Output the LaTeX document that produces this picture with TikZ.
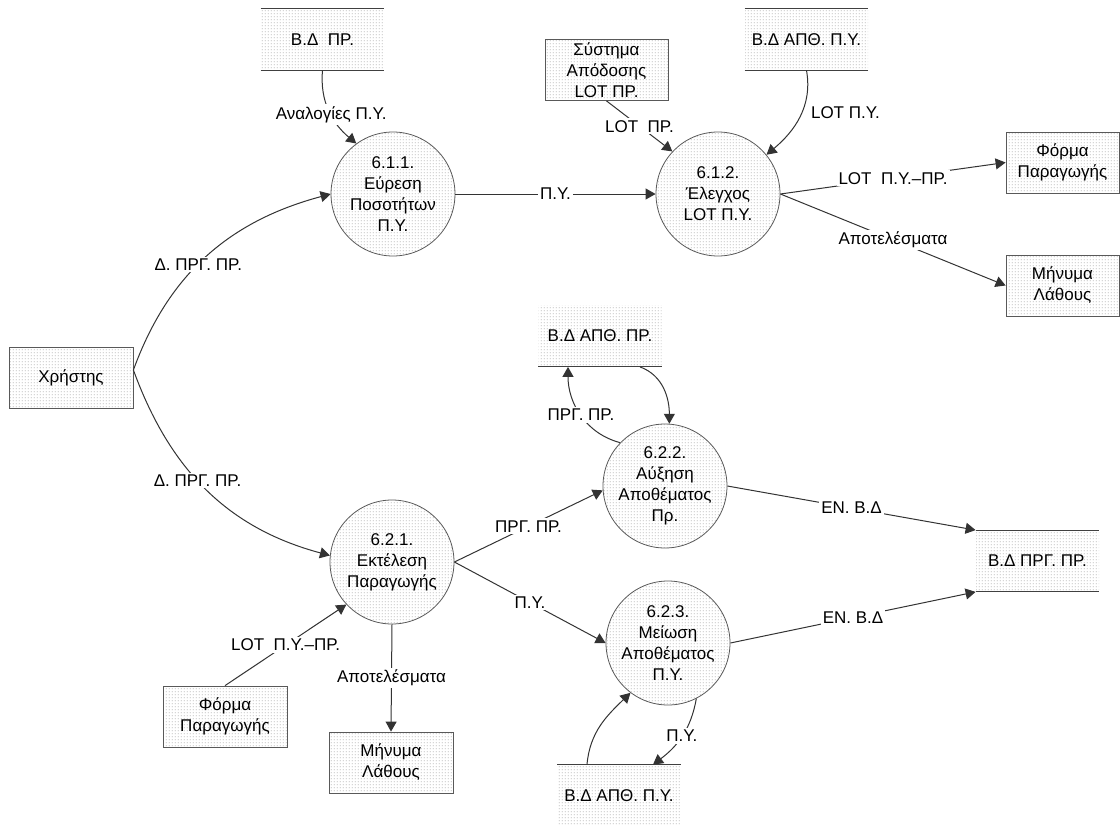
\documentclass[tikz,border=0pt]{standalone}
\usepackage{fontspec}
\setmainfont{Liberation Sans}
\usetikzlibrary{arrows.meta, positioning, patterns.meta}

\tikzdeclarepattern{
  name=sdots,
  type=uncolored,
  bounding box={(0pt,0pt) and (1.5pt,1.5pt)},
  tile size={(1.5pt,1.5pt)},
  code={\fill (0.75pt,0.75pt) circle (0.32pt);}
}

\begin{document}
\begin{tikzpicture}[x=0.5pt, y=-0.5pt, >={Triangle[length=5pt,width=5.5pt]},
    font=\fontsize{8.5}{10.5}\selectfont,
    proc/.style={circle, draw=black!65, pattern=sdots, pattern color=black!45,
      minimum size=62pt, inner sep=0pt, align=center},
    ext/.style={rectangle, draw=black!65, pattern=sdots, pattern color=black!45,
      minimum width=61.5pt, minimum height=30.5pt, inner sep=1pt, align=center},
    store/.style={rectangle, pattern=sdots, pattern color=black!45,
      minimum width=61.5pt, minimum height=30.5pt, inner sep=1pt},
    edge/.style={draw=black!75, line width=0.5pt},
    flow/.style={->, draw=black!80, line width=0.5pt},
    lbl/.style={fill=white, inner sep=1pt}]
  \useasboundingbox (0,0) rectangle (1120,825);
  % Data stores
  \node[store] (bdpr) at (322.5,39.5) {Β.Δ\ \ ΠΡ.};
  \node[store] (bdpyA) at (806.5,39.5) {Β.Δ ΑΠΘ. Π.Υ.};
  \node[store] (bdprB) at (600,336) {Β.Δ ΑΠΘ. ΠΡ.};
  \node[store] (bdprg) at (1037.5,561) {Β.Δ ΠΡΓ. ΠΡ.};
  \node[store] (bdpyB) at (619,795.5) {Β.Δ ΑΠΘ. Π.Υ.};
  \draw[edge] (bdpr.north west) -- (bdpr.north east) (bdpr.south west) -- (bdpr.south east);
  \draw[edge] (bdpyA.north west) -- (bdpyA.north east) (bdpyA.south west) -- (bdpyA.south east);
  \draw[edge] (bdprB.south west) -- (bdprB.south east);
  \draw[edge] (bdprg.north west) -- (bdprg.north east) (bdprg.south west) -- (bdprg.south east);
  \draw[edge] (bdpyB.north west) -- (bdpyB.north east);
  % External entities
  \node[ext, minimum width=62pt] (user) at (71,378) {Χρήστης};
  \node[ext] (system) at (606.5,70) {Σύστημα\\Απόδοσης\\LOT ΠΡ.};
  \node[ext, minimum width=56.5pt] (formaA) at (1062.5,162.5) {Φόρμα\\Παραγωγής};
  \node[ext, minimum width=56.5pt] (errA) at (1062.5,285.5) {Μήνυμα\\Λάθους};
  \node[ext, minimum width=62pt] (formaB) at (225,716.5) {Φόρμα\\Παραγωγής};
  \node[ext, minimum width=62pt] (errB) at (391,762.5) {Μήνυμα\\Λάθους};
  % Processes
  \node[proc] (p611) at (393,194) {6.1.1.\\Εύρεση\\Ποσοτήτων\\Π.Υ.};
  \node[proc] (p612) at (718,194) {6.1.2.\\Έλεγχος\\LOT Π.Υ.};
  \node[proc] (p622) at (665,486) {6.2.2.\\Αύξηση\\Αποθέματος\\Πρ.};
  \node[proc] (p621) at (392,562) {6.2.1.\\Εκτέλεση\\Παραγωγής};
  \node[proc] (p623) at (668,643) {6.2.3.\\Μείωση\\Αποθέματος\\Π.Υ.};
  % Flows of 6.1
  \coordinate (uout) at ([yshift=4pt]user.east);
  \draw[flow] (uout) to[out=70, in=-165] node[lbl, pos=0.45] {Δ. ΠΡΓ. ΠΡ.} (p611.west);
  \draw[flow] (bdpr.south) to[out=-95, in=140] node[lbl, pos=0.55] {Αναλογίες Π.Υ.} (p611.126);
  \draw[flow] (p611) -- node[lbl] {Π.Υ.} (p612);
  \draw[flow] (system.south) -- node[lbl] {LOT\ \ ΠΡ.} (p612.137);
  \draw[flow] (bdpyA.south) to[out=-80, in=40] node[lbl, pos=0.45, xshift=22pt] {LOT Π.Υ.} (p612.39);
  \draw[flow] (p612.east) -- node[lbl] {LOT\ \ Π.Υ.–ΠΡ.} (formaA.west);
  \draw[flow] (p612.east) -- node[lbl] {Αποτελέσματα} (errA.west);
  % Flows of 6.2
  \draw[flow] (uout) to[out=-70, in=165] node[lbl, pos=0.45] {Δ. ΠΡΓ. ΠΡ.} (p621.174);
  \draw[flow] (formaB.north) -- node[lbl] {LOT\ \ Π.Υ.–ΠΡ.} (p621.223);
  \draw[flow] (p621.south) -- node[lbl] {Αποτελέσματα} (errB.north);
  \draw[flow] (p621.east) -- node[lbl] {ΠΡΓ. ΠΡ.} (p622.184);
  \draw[flow] (p621.east) -- node[lbl] {Π.Υ.} (p623.west);
  \draw[flow] (p622.136) to[out=165, in=-90] node[lbl, pos=0.5] {ΠΡΓ. ΠΡ.} ([xshift=-16pt]bdprB.south);
  \draw[flow] ([xshift=20pt]bdprB.south) to[out=-20, in=90] (p622.86);
  \draw[flow] (p622.east) -- node[lbl] {ΕΝ. Β.Δ} (bdprg.north west);
  \draw[flow] (p623.east) -- node[lbl] {ΕΝ. Β.Δ} (bdprg.south west);
  \draw[flow] ([xshift=-16pt]bdpyB.north) to[out=85, in=224] (p623.233);
  \draw[flow] (p623.-63) to[out=-100, in=37] node[lbl, pos=0.5] {Π.Υ.} ([xshift=17pt]bdpyB.north);
\end{tikzpicture}
\end{document}
